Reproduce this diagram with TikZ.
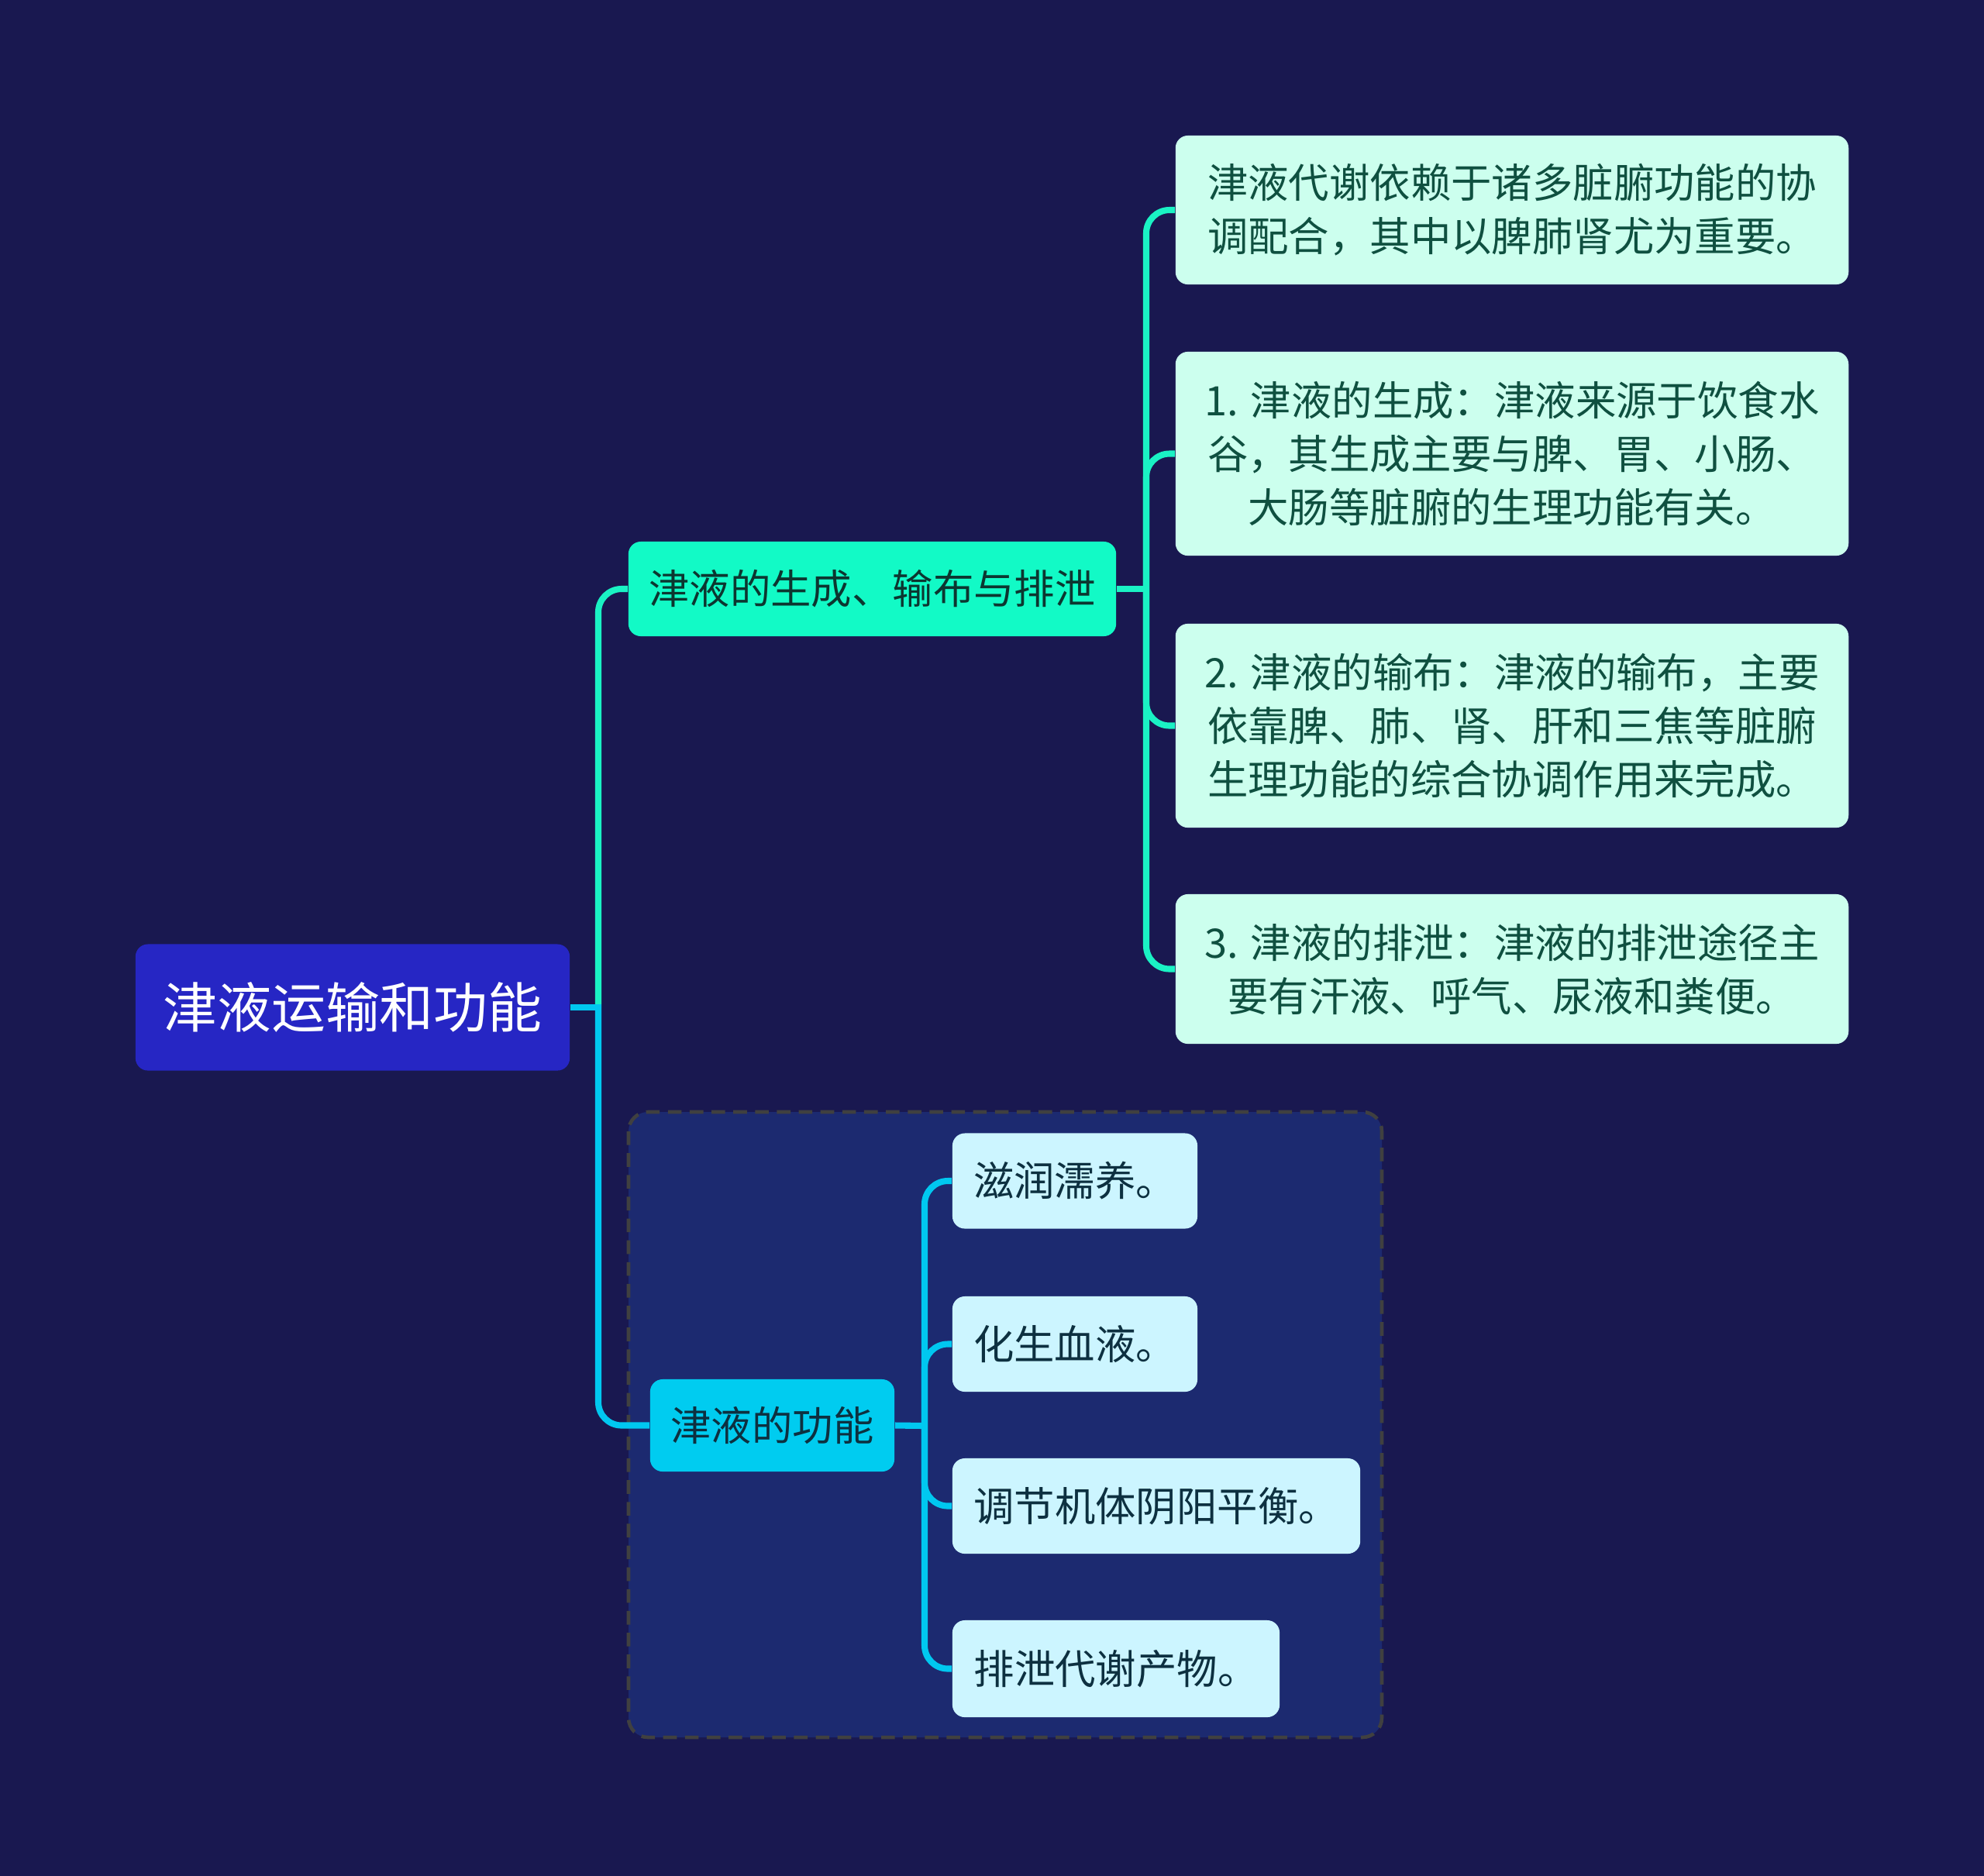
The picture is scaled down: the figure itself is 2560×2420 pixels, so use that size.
\documentclass[tikz,border=0pt]{standalone}
\usepackage{fontspec}
\newfontfamily\cjk{Noto Sans CJK SC}
\definecolor{bg}{HTML}{191850}
\definecolor{rootfill}{HTML}{2626C4}
\definecolor{tealfill}{HTML}{12FAC6}
\definecolor{cyanfill}{HTML}{00CCF0}
\definecolor{grpfill}{HTML}{1C2A70}
\definecolor{grpline}{HTML}{404040}
\definecolor{leafA}{HTML}{CCFFEE}
\definecolor{leafB}{HTML}{CCF5FF}
\definecolor{txtA}{HTML}{0F5040}
\definecolor{txtB}{HTML}{0D3040}
\definecolor{txtL}{HTML}{0C3630}
\definecolor{lineA}{HTML}{1AF2C4}
\definecolor{lineB}{HTML}{00C8F0}
\tikzset{
  box/.style={rounded corners=0.16cm, inner sep=0pt, align=center, font=\cjk\fontsize{14.9pt}{19.6pt}\selectfont},
  rootbox/.style={box, fill=rootfill, text=white, minimum width=5.6cm, minimum height=1.63cm, font=\cjk\fontsize{19.9pt}{24pt}\selectfont},
  lonea/.style={box, fill=tealfill, text=txtL, minimum width=6.29cm, minimum height=1.22cm},
  loneb/.style={box, fill=cyanfill, text=txtB, minimum width=3.15cm, minimum height=1.19cm},
  leafa/.style={box, fill=leafA, text=txtA, minimum width=8.68cm},
  leafb/.style={box, fill=leafB, text=txtB, minimum height=1.23cm},
  conna/.style={draw=lineA, line width=2.3pt, rounded corners=0.3cm},
  connb/.style={draw=lineB, line width=2.3pt, rounded corners=0.3cm}
}
\begin{document}
\begin{tikzpicture}[x=0.01cm,y=-0.01cm]
\useasboundingbox (0,0) rectangle (2560,2420);
\fill[bg] (-20,-20) rectangle (2580,2440);
\filldraw[fill=grpfill, draw=grpline, dash pattern=on 5pt off 3pt, line width=1.3pt, rounded corners=0.25cm] (811,1435) rectangle (1783,2242);

\node[rootbox] (root) at (455,1300) {津液运输和功能};
\node[lonea] (gen) at (1125.5,760) {津液的生成、输布与排泄};
\node[loneb] (fun) at (996.5,1839.5) {津液的功能};

\node[leafa, minimum height=1.92cm] (a1) at (1951,271) {津液代谢依赖于诸多脏腑功能的协\\调配合，其中以脾肺肾尤为重要。};
\node[leafa, minimum height=2.63cm] (a2) at (1951,585.5) {1. 津液的生成：津液来源于饮食水\\谷，其生成主要与脾、胃、小肠、\\大肠等脏腑的生理功能有关。};
\node[leafa, minimum height=2.63cm] (a3) at (1951,936.5) {2. 津液的输布：津液的输布，主要\\依靠脾、肺、肾、肝和三焦等脏腑\\生理功能的综合协调作用来完成。};
\node[leafa, minimum height=1.93cm] (a4) at (1951,1250.5) {3. 津液的排泄：津液的排泄途径主\\要有汗液、呼气、尿液和粪便。};

\node[leafb, minimum width=3.16cm] (b1) at (1387,1524) {滋润濡养。};
\node[leafb, minimum width=3.16cm] (b2) at (1387,1734.5) {化生血液。};
\node[leafb, minimum width=5.26cm] (b3) at (1492,1943.5) {调节机体阴阳平衡。};
\node[leafb, minimum width=4.22cm, minimum height=1.25cm] (b4) at (1440,2153.5) {排泄代谢产物。};

\coordinate (tr) at (772,1300);
\coordinate (ga) at (1479,760);
\coordinate (fb) at (1193,1840);

\draw[conna] (tr) -- (tr |- gen.west) -- (gen.west);
\draw[connb] (tr) -- (tr |- fun.west) -- (fun.west);
\draw[connb] (root.east) -- ([xshift=0.04cm]tr);

\draw[conna] (gen.east) -- (ga);
\foreach \n in {a1,a2,a3,a4}{
  \draw[conna] (ga) -- (ga |- \n.west) -- (\n.west);
}
\draw[connb] (fun.east) -- (fb);
\foreach \n in {b1,b2,b3,b4}{
  \draw[connb] (fb) -- (fb |- \n.west) -- (\n.west);
}
\end{tikzpicture}
\end{document}
